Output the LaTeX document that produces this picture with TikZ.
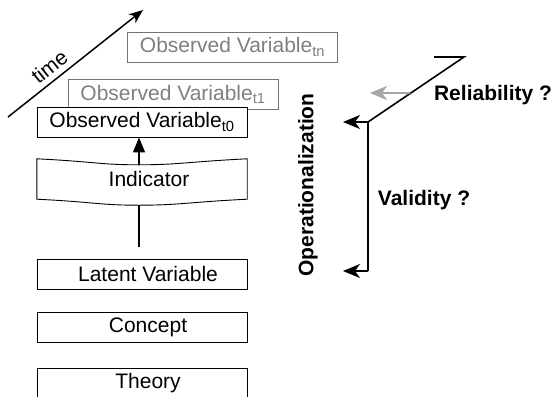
\documentclass[tikz,border=0pt]{standalone}
\usepackage{fontspec}
\setmainfont{Liberation Sans}
\usetikzlibrary{arrows.meta}
\begin{document}
\begin{tikzpicture}[x=1pt, y=-1pt, font=\fontsize{21}{25}\selectfont,
  boite/.style={draw, fill=white, line width=0.9pt, minimum width=210pt, minimum height=30pt, inner sep=0pt},
  gris/.style={boite, draw=black!55, text=black!50},
  gras/.style={font=\fontsize{21}{25}\selectfont\bfseries},
  fleche/.style={-{Stealth[length=17pt,width=14pt,inset=5pt]}, line width=1.6pt}]
\useasboundingbox (0,0) rectangle (553,396);
\node[gris] (tn) at (232.5,47) {Observed Variable\textsubscript{tn}};
\node[gris] (t1) at (173,94.5) {Observed Variable\textsubscript{t1}};
\node[boite] (t0) at (142,122) {Observed Variable\textsubscript{t0}};
\foreach \n/\t/\y in {lat/Latent Variable/274, con/Concept/327, the/Theory/383}
  \node[boite] (\n) at (142,\y) {\hspace*{12pt}\t};
\node[minimum width=210pt, minimum height=40pt, inner sep=0pt] (ind) at (142,179) {\hspace*{14pt}Indicator};
\coordinate (indh) at ([xshift=-3pt,yshift=-6pt]ind.north);
\coordinate (indb) at ([xshift=-3pt,yshift=-6pt]ind.south);
\draw[line width=0.9pt] (ind.north west) .. controls +(60,3) and +(-40,0) .. (indh)
  .. controls +(40,0) and +(-60,3) .. (ind.north east) -- (ind.south east)
  .. controls +(-60,3) and +(40,0) .. (indb) .. controls +(-40,0) and +(60,3) .. (ind.south west) -- cycle;
\draw[line width=1.5pt] ([xshift=-3pt,yshift=12pt]lat.north) -- (indb);
\draw[-{Triangle[length=15pt,width=12pt]}, line width=1.5pt] (indh) -- ([xshift=-3pt]t0.south);
\coordinate (ta) at (8,117);
\coordinate (tb) at (143,10);
\draw[-{Stealth[length=14pt,width=11pt,inset=4pt]}, line width=1.5pt] (ta) -- node[sloped, above=2pt, pos=0.37] (temps) {time} (tb);
\coordinate (r1) at (434,57);
\coordinate (r2) at (464,57);
\coordinate (coin) at (368,122);
\coordinate (bas) at (368,271);
\coordinate (fh) at (343,122);
\coordinate (fb) at (343,271);
\draw[line width=1.6pt] (r1) -- (r2) -- (coin) -- (bas);
\draw[fleche] (coin) -- (fh);
\draw[fleche] (bas) -- (fb);
\coordinate (g1) at (410,93);
\coordinate (g2) at (370,93);
\draw[fleche, black!35, line width=2.5pt] (g1) -- (g2);
\node[gras] (rel) at (493,95) {Reliability ?};
\node[gras] (val) at (424,200) {Validity ?};
\node[gras, rotate=90] (oper) at (308,185) {Operationalization};
\end{tikzpicture}
\end{document}
